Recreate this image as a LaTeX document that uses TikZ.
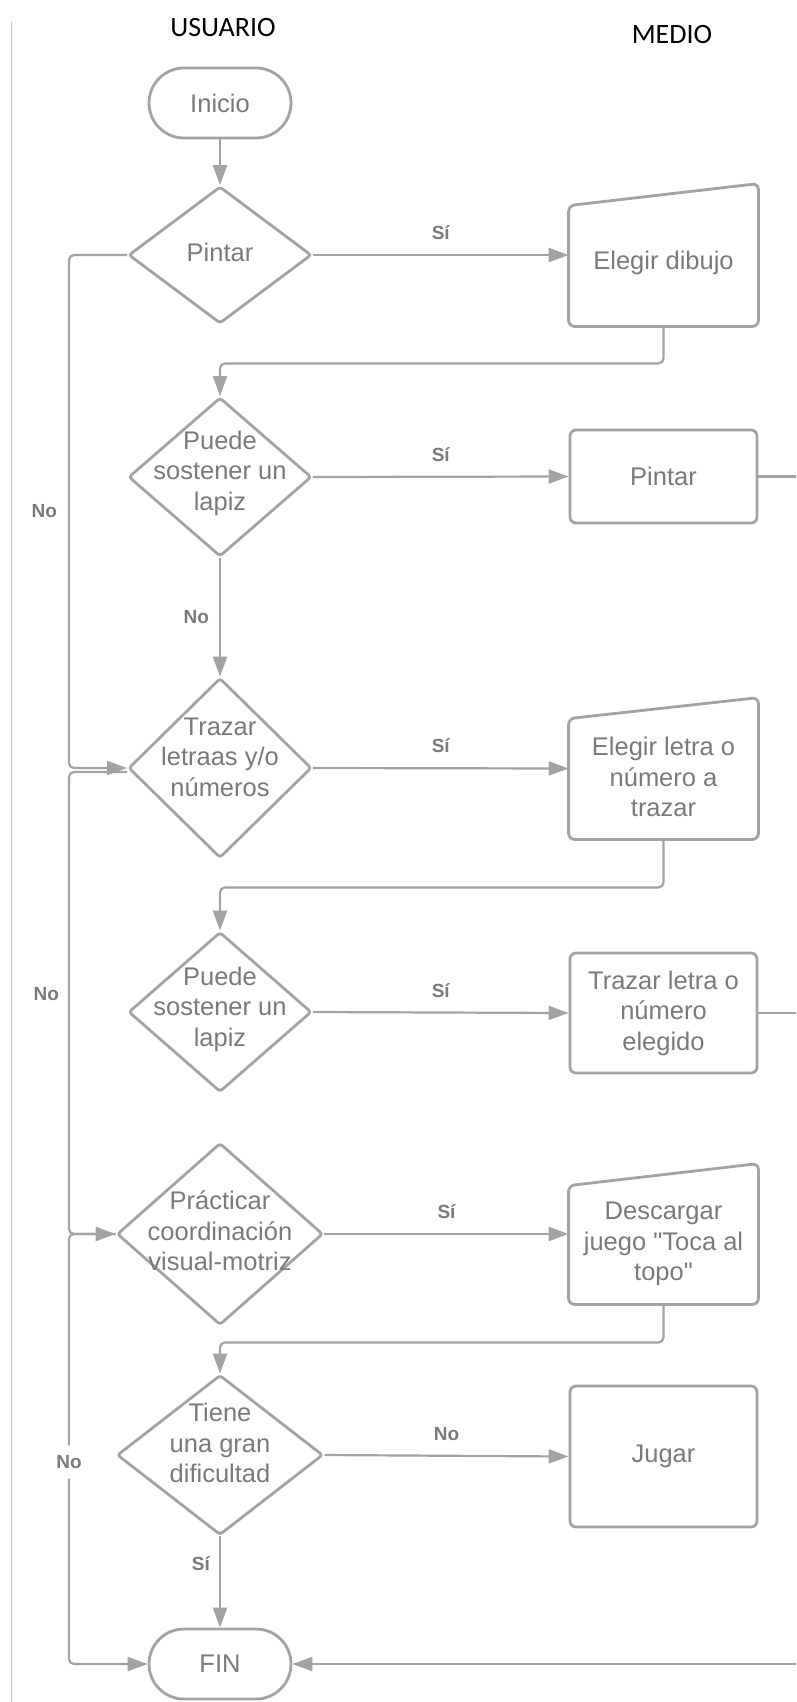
\documentclass[tikz,border=0pt]{standalone}
\usepackage{fontspec}
\setmainfont{Liberation Sans}
\newfontfamily\hdrfont{Carlito}
\newcommand\mystraightq{{\addfontfeatures{Ligatures=TeXOff}"}}
\usetikzlibrary{shapes.geometric,arrows.meta,calc}
\definecolor{lc}{HTML}{A3A3A3}
\definecolor{tc}{HTML}{7A7A7A}
\definecolor{thinc}{HTML}{C8C8C8}
\tikzset{
 shp/.style={draw=lc, line width=2.8pt, fill=white, text=tc, font=\fontsize{25.5}{30.5}\selectfont, align=center, inner sep=0pt},
 term/.style={shp, rectangle, rounded corners=35pt, minimum width=142pt, minimum height=70pt},
 dia/.style={shp, diamond, rounded corners=3pt},
 boxn/.style={shp, rectangle, rounded corners=6pt, minimum width=187pt},
 manual/.style={rectangle, inner sep=0pt, line width=2.8pt, minimum width=187pt},
 manline/.style={draw=lc, line width=2.8pt, fill=none, rounded corners=6pt},
 mtext/.style={text=tc, font=\fontsize{25.5}{30.5}\selectfont, align=center, inner sep=0pt},
 conn/.style={draw=lc, line width=2.2pt, rounded corners=5pt},
 arr/.style={conn, -{Triangle[length=20pt,width=14pt]}},
 lbl/.style={text=tc, font=\bfseries\fontsize{19}{22}\selectfont, inner sep=0pt},
 hdr/.style={font=\hdrfont\fontsize{28}{32}\selectfont, text=black},
}
\begin{document}
\begin{tikzpicture}[x=1pt,y=-1pt]
\useasboundingbox (0,0) rectangle (796,1702);
\draw[thinc, line width=1pt] (11,22) -- (11,1702);

\node[hdr] (husr) at (223,28) {USUARIO};
\node[hdr] (hmed) at (672,35) {MEDIO};

% left column
\node[term] (ini) at (220,103) {Inicio};
\node[dia, minimum width=183pt, minimum height=137pt, label={[mtext, yshift=3pt]center:Pintar}] (d1) at (220,255) {};
\node[dia, minimum width=183pt, minimum height=159pt, label={[mtext, yshift=4pt]center:Puede\\sostener un\\lapiz}] (d2) at (220,477) {};
\node[dia, minimum width=183pt, minimum height=180pt, label={[mtext, yshift=11pt]center:Trazar\\letraas y/o\\números}] (d3) at (220,768) {};
\node[dia, minimum width=183pt, minimum height=160pt, label={[mtext, yshift=3pt]center:Puede\\sostener un\\lapiz}] (d4) at (220,1012) {};
\node[dia, minimum width=206pt, minimum height=182pt, label={[mtext, yshift=3pt]center:Prácticar\\coordinación\\visual-motriz}] (d5) at (220,1234) {};
\node[dia, minimum width=206pt, minimum height=160pt, label={[mtext, yshift=12pt]center:Tiene\\una gran\\dificultad}] (d6) at (220,1455) {};
\node[term] (fin) at (220,1664) {FIN};

% right column
\node[manual, minimum height=140pt, label={[mtext, yshift=-8pt]center:Elegir dibujo}] (b1) at (663.5,255) {};
\draw[manline] (b1.south west) -- (b1.south east) -- (b1.north east) -- ([yshift=-22pt]b1.north west) -- cycle;
\node[boxn, minimum height=93pt] (b2) at (663.5,476.5) {Pintar};
\node[manual, minimum height=139pt, label={[mtext, yshift=-8.5pt]center:Elegir letra o\\número a\\trazar}] (b3) at (663.5,768.5) {};
\draw[manline] (b3.south west) -- (b3.south east) -- (b3.north east) -- ([yshift=-21pt]b3.north west) -- cycle;
\node[boxn, minimum height=120pt] (b4) at (663.5,1013) {Trazar letra o\\número\\elegido};
\node[manual, minimum height=138pt, label={[mtext, yshift=-10pt]center:Descargar\\juego \mystraightq Toca al\\topo\mystraightq}] (b5) at (663.5,1234) {};
\draw[manline] (b5.south west) -- (b5.south east) -- (b5.north east) -- ([yshift=-22pt]b5.north west) -- cycle;
\node[boxn, minimum height=141pt] (b6) at (663.5,1456.5) {Jugar};

\coordinate (lx) at (69,0);
\coordinate (e1) at (796,476.5);
\coordinate (e2) at (796,1013);
\coordinate (e3) at (796,1664);

% connectors
\draw[arr] (ini.south) -- (d1.north);
\draw[arr] (d1.east) -- node[lbl, above=14pt]{Sí} (b1.west);
\draw[arr] (b1.south) -- ++(0,37) -| (d2.north);
\draw[arr] (d2.east) -- node[lbl, above=14pt]{Sí} (b2.west);
\draw[conn] (b2.east) -- (e1);
\draw[arr] (d2.south) -- node[lbl, left=10pt]{No} (d3.north);
\draw[arr] (d1.west) -- (d1.west -| lx) -- node[lbl, left=11pt]{No} (d3.west -| lx) -- (d3.west);
\draw[arr] (d3.east) -- node[lbl, above=14pt]{Sí} (b3.west);
\draw[arr] (b3.south) -- ++(0,48) -| (d4.north);
\draw[arr] (d4.east) -- node[lbl, above=14pt]{Sí} (b4.west);
\draw[conn] (b4.east) -- (e2);
\draw[arr] ([yshift=-4pt]d3.west) -- ([yshift=-4pt]d3.west -| lx) -- node[lbl, left=9pt, pos=0.48]{No} (d5.west -| lx) -- (d5.west);
\draw[arr] (d5.east) -- node[lbl, above=14pt]{Sí} (b5.west);
\draw[arr] (b5.south) -- ++(0,38) -| (d6.north);
\draw[arr] (d6.east) -- node[lbl, above=14pt]{No} (b6.west);
\draw[arr] (d6.south) -- node[lbl, left=9pt, pos=0.3]{Sí} (fin.north);
\draw[arr] (d5.west) -- (d5.west -| lx) -- node[lbl, fill=white, inner xsep=2pt, inner ysep=10pt, pos=0.53]{No} (fin.west -| lx) -- (fin.west);
\draw[arr] (e3) -- (fin.east);
\end{tikzpicture}
\end{document}
